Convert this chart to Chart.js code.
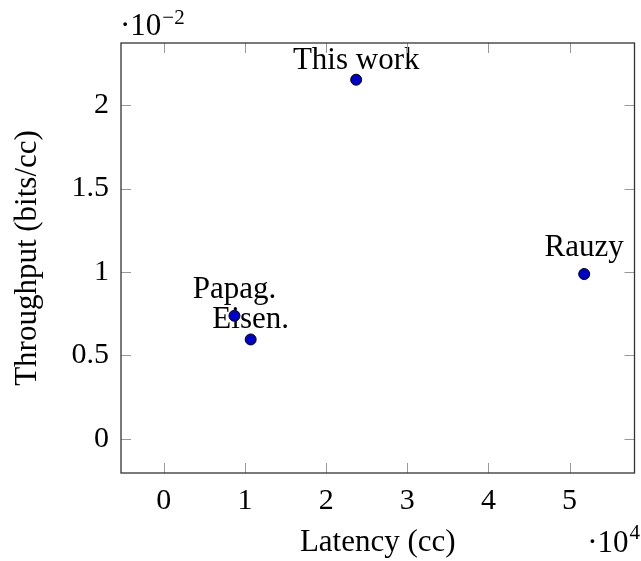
<!DOCTYPE html>
<html>
<head>
<meta charset="utf-8">
<script src="https://cdn.jsdelivr.net/npm/chart.js@4"></script>
<style>
  body { margin: 0; background: #fff; }
  #wrap { width: 641px; height: 561px; }
</style>
</head>
<body>
<div id="wrap"><canvas id="scatterChart"></canvas></div>
<script>
const pointLabels = ['This work', 'Papag.', 'Eisen.', 'Rauzy'];
const latency = [23700, 8700, 10700, 51800];
const throughput = [0.02152, 0.00738, 0.00596, 0.00988];
const xTicks = [0, 10000, 20000, 30000, 40000, 50000];
const yTicks = [0, 0.005, 0.01, 0.015, 0.02];

const FONT = '"Liberation Serif", "Times New Roman", serif';

// frame, inward ticks on all four sides, point labels and the axis multipliers
const pgfLook = {
  id: 'pgfLook',
  beforeDatasetsDraw(chart) {
    const ctx = chart.ctx;
    const meta = chart.getDatasetMeta(0);
    ctx.save();
    ctx.font = '31px ' + FONT;
    ctx.fillStyle = '#000';
    ctx.textAlign = 'center';
    ctx.textBaseline = 'alphabetic';
    meta.data.forEach((el, i) => {
      const txt = pointLabels[i];
      const d = ctx.measureText(txt).actualBoundingBoxDescent;
      ctx.fillText(txt, el.x, el.y - 11 - Math.max(0, d));
    });
    ctx.restore();
  },
  afterDraw(chart) {
    const ctx = chart.ctx;
    const a = chart.chartArea;
    const xs = chart.scales.x, ys = chart.scales.y;
    ctx.save();
    ctx.strokeStyle = '#999';
    ctx.lineWidth = 1;
    xTicks.forEach(v => {
      const px = Math.round(xs.getPixelForValue(v)) + 0.5;
      ctx.beginPath();
      ctx.moveTo(px, a.bottom); ctx.lineTo(px, a.bottom - 10);
      ctx.moveTo(px, a.top); ctx.lineTo(px, a.top + 10);
      ctx.stroke();
    });
    yTicks.forEach(v => {
      const py = Math.round(ys.getPixelForValue(v)) + 0.5;
      ctx.beginPath();
      ctx.moveTo(a.left, py); ctx.lineTo(a.left + 10, py);
      ctx.moveTo(a.right, py); ctx.lineTo(a.right - 10, py);
      ctx.stroke();
    });
    ctx.strokeStyle = '#333';
    ctx.lineWidth = 1.3;
    ctx.strokeRect(a.left, a.top, a.right - a.left, a.bottom - a.top);

    ctx.fillStyle = '#000';
    ctx.textBaseline = 'alphabetic';
    ctx.textAlign = 'left';
    // y multiplier, top left
    ctx.font = '31px ' + FONT;
    ctx.fillText('\u00b710', a.left - 1, 35);
    let w = ctx.measureText('\u00b710').width;
    ctx.font = '21px ' + FONT;
    ctx.fillText('\u22122', a.left - 1 + w + 1, 24);
    // x multiplier, bottom right
    ctx.font = '21px ' + FONT;
    const sw = ctx.measureText('4').width;
    ctx.font = '31px ' + FONT;
    w = ctx.measureText('\u00b710').width;
    const x0 = 640 - sw - 1 - w;
    ctx.fillText('\u00b710', x0, 552);
    ctx.font = '21px ' + FONT;
    ctx.fillText('4', x0 + w + 1, 539);
    ctx.restore();
  }
};

const ctx = document.getElementById('scatterChart').getContext('2d');
new Chart(ctx, {
  type: 'scatter',
  data: {
    datasets: [{
      label: 'Designs',
      data: latency.map((x, i) => ({ x: x, y: throughput[i] })),
      backgroundColor: '#0000cc',
      borderColor: '#000',
      borderWidth: 1,
      pointRadius: 5.5,
      pointHoverRadius: 5.5
    }]
  },
  options: {
    responsive: true,
    maintainAspectRatio: false,
    animation: false,
    layout: { padding: { top: 43, right: 4, left: 0, bottom: 0 } },
    plugins: {
      legend: { display: false },
      tooltip: { enabled: false }
    },
    scales: {
      x: {
        type: 'linear',
        min: -5280,
        max: 58000,
        afterBuildTicks: s => { s.ticks = xTicks.map(v => ({ value: v })); },
        afterFit: s => { s.height = 88; },
        grid: { display: false, drawTicks: false },
        border: { display: false },
        ticks: {
          padding: 10,
          color: '#000',
          font: { family: FONT, size: 30 },
          callback: v => String(v / 10000)
        },
        title: {
          display: true,
          text: 'Latency (cc)',
          color: '#000',
          padding: 0,
          font: { family: FONT, size: 31 }
        }
      },
      y: {
        type: 'linear',
        min: -0.00204,
        max: 0.02372,
        afterBuildTicks: s => { s.ticks = yTicks.map(v => ({ value: v })); },
        afterFit: s => { s.width = 121; },
        grid: { display: false, drawTicks: false },
        border: { display: false },
        ticks: {
          padding: 12,
          color: '#000',
          font: { family: FONT, size: 30 },
          callback: v => String(Math.round(v * 1000) / 10)
        },
        title: {
          display: true,
          text: 'Throughput (bits/cc)',
          color: '#000',
          padding: { top: 9, bottom: 0 },
          font: { family: FONT, size: 31 }
        }
      }
    }
  },
  plugins: [pgfLook]
});
</script>
</body>
</html>
